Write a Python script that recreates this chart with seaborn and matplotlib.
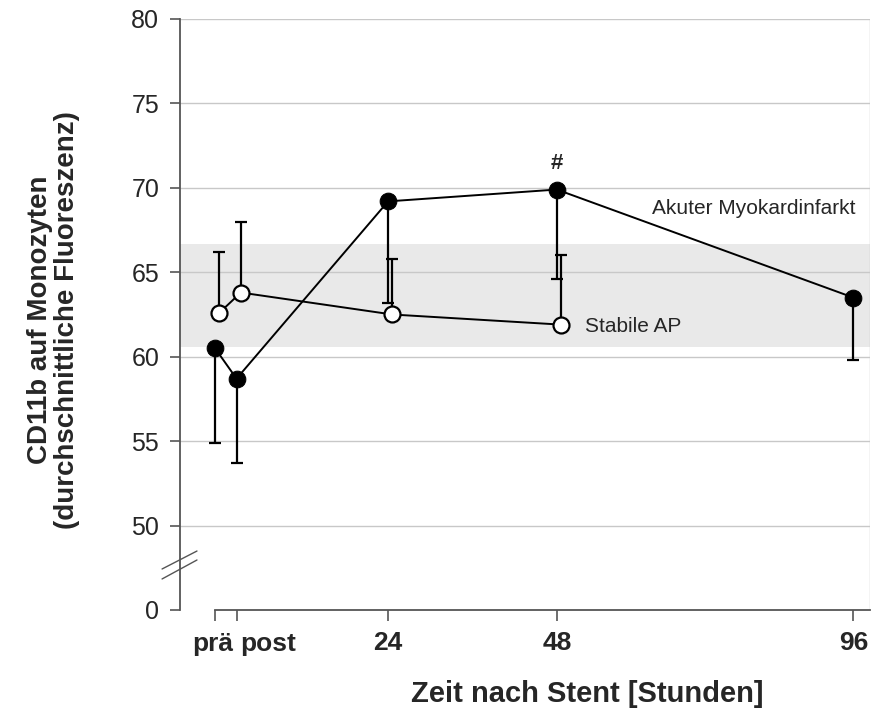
import numpy as np
import pandas as pd
import matplotlib
matplotlib.use("Agg")
import matplotlib.pyplot as plt
import seaborn as sns

# data
time_labels = ["prä", "post", "24", "48", "96"]
ami_mean = [60.5, 58.7, 69.2, 69.9, 63.5]
ami_err = [5.6, 5.0, 6.0, 5.3, 3.7]      # drawn downwards only
sap_mean = [62.6, 63.8, 62.5, 61.9]
sap_err = [3.6, 4.2, 3.3, 4.1]           # drawn upwards only
ref_band = [60.6, 66.7]

# layout: horizontal slot of each time point (axis is not to scale)
x_slot = [0, 1, 8.05, 15.9, 29.7]
sap_shift = 0.2
y_floor = 45  # where the "0" of the broken axis sits

sns.set_style("white")
plt.rcParams["font.family"] = ["Liberation Sans", "DejaVu Sans"]

fig = plt.figure(figsize=(8.72, 7.2), dpi=100)
ax = fig.add_axes([180 / 872, 1 - 610 / 720, 690 / 872, 591 / 720])

ax.axhspan(ref_band[0], ref_band[1], color="#e9e9e9", zorder=0, lw=0)
for g in range(50, 81, 5):
    ax.axhline(g, color="#c8c8c8", lw=1, zorder=1)
ax.axvline(30.47, color="#c8c8c8", lw=1, zorder=1)

ami = pd.DataFrame({"x": x_slot, "y": ami_mean})
sap = pd.DataFrame({"x": [x + sap_shift for x in x_slot[:4]], "y": sap_mean})

# error bars first so markers sit on top
ax.errorbar(ami["x"], ami["y"], yerr=[ami_err, [0] * 5], fmt="none",
            ecolor="black", elinewidth=1.6, capsize=4.5, capthick=1.6, zorder=3)
ax.errorbar(sap["x"], sap["y"], yerr=[[0] * 4, sap_err], fmt="none",
            ecolor="black", elinewidth=1.6, capsize=4.5, capthick=1.6, zorder=3)

sns.lineplot(data=sap, x="x", y="y", ax=ax, sort=False, color="black", lw=1.4,
             marker="o", markersize=11.5, markerfacecolor="white",
             markeredgecolor="black", markeredgewidth=1.6, zorder=4)
sns.lineplot(data=ami, x="x", y="y", ax=ax, sort=False, color="black", lw=1.4,
             marker="o", markersize=12, markerfacecolor="black",
             markeredgecolor="black", zorder=5)

ax.text(x_slot[3], 70.8, "#", ha="center", va="bottom", fontsize=16, fontweight="bold")
ax.text(29.8, 68.8, "Akuter Myokardinfarkt", ha="right", va="center", fontsize=15)
ax.text(17.2, 61.8, "Stabile AP", ha="left", va="center", fontsize=15)

ax.set_xlim(-1.63, 30.47)
ax.set_ylim(y_floor, 80)
ax.set_yticks([y_floor] + list(range(50, 81, 5)))
ax.set_yticklabels(["0"] + [str(v) for v in range(50, 81, 5)], fontsize=18)
ax.set_xticks(x_slot)
# the two crowded labels are placed by hand below
ax.set_xticklabels(["", ""] + time_labels[2:], fontsize=19, fontweight="bold")
lab_y = -0.058
ax.text(x_slot[0] - 0.1, lab_y, time_labels[0], transform=ax.get_xaxis_transform(),
        ha="center", va="center", fontsize=19, fontweight="bold")
ax.text(x_slot[1] + 0.15, lab_y, time_labels[1], transform=ax.get_xaxis_transform(),
        ha="left", va="center", fontsize=19, fontweight="bold")

for s in ["top", "right"]:
    ax.spines[s].set_visible(False)
for s in ["left", "bottom"]:
    ax.spines[s].set_color("#555555")
    ax.spines[s].set_linewidth(1.3)
ax.spines["bottom"].set_bounds(x_slot[0], 30.47)
ax.tick_params(axis="y", direction="out", length=7, width=1.2, color="#555555", left=True, pad=8)
ax.tick_params(axis="x", direction="out", length=8, width=1.2, color="#555555", bottom=True, pad=7)

# axis break marks
for y0, y1 in [(0.0694, 0.0998), (0.0525, 0.0846)]:
    ax.plot([-0.026, 0.0246], [y0, y1], transform=ax.transAxes, color="#555555",
            lw=1, clip_on=False, zorder=6)

ax.set_xlabel("Zeit nach Stent [Stunden]", fontsize=21, fontweight="bold")
ax.xaxis.set_label_coords((587 - 180) / 690, -0.118)
ax.set_ylabel("CD11b auf Monozyten\n(durchschnittliche Fluoreszenz)", fontsize=20,
              fontweight="bold", linespacing=1.05)
ax.yaxis.set_label_coords((80 - 180) / 690, (610 - 320) / 591)

fig.savefig("out.png", dpi=100)
